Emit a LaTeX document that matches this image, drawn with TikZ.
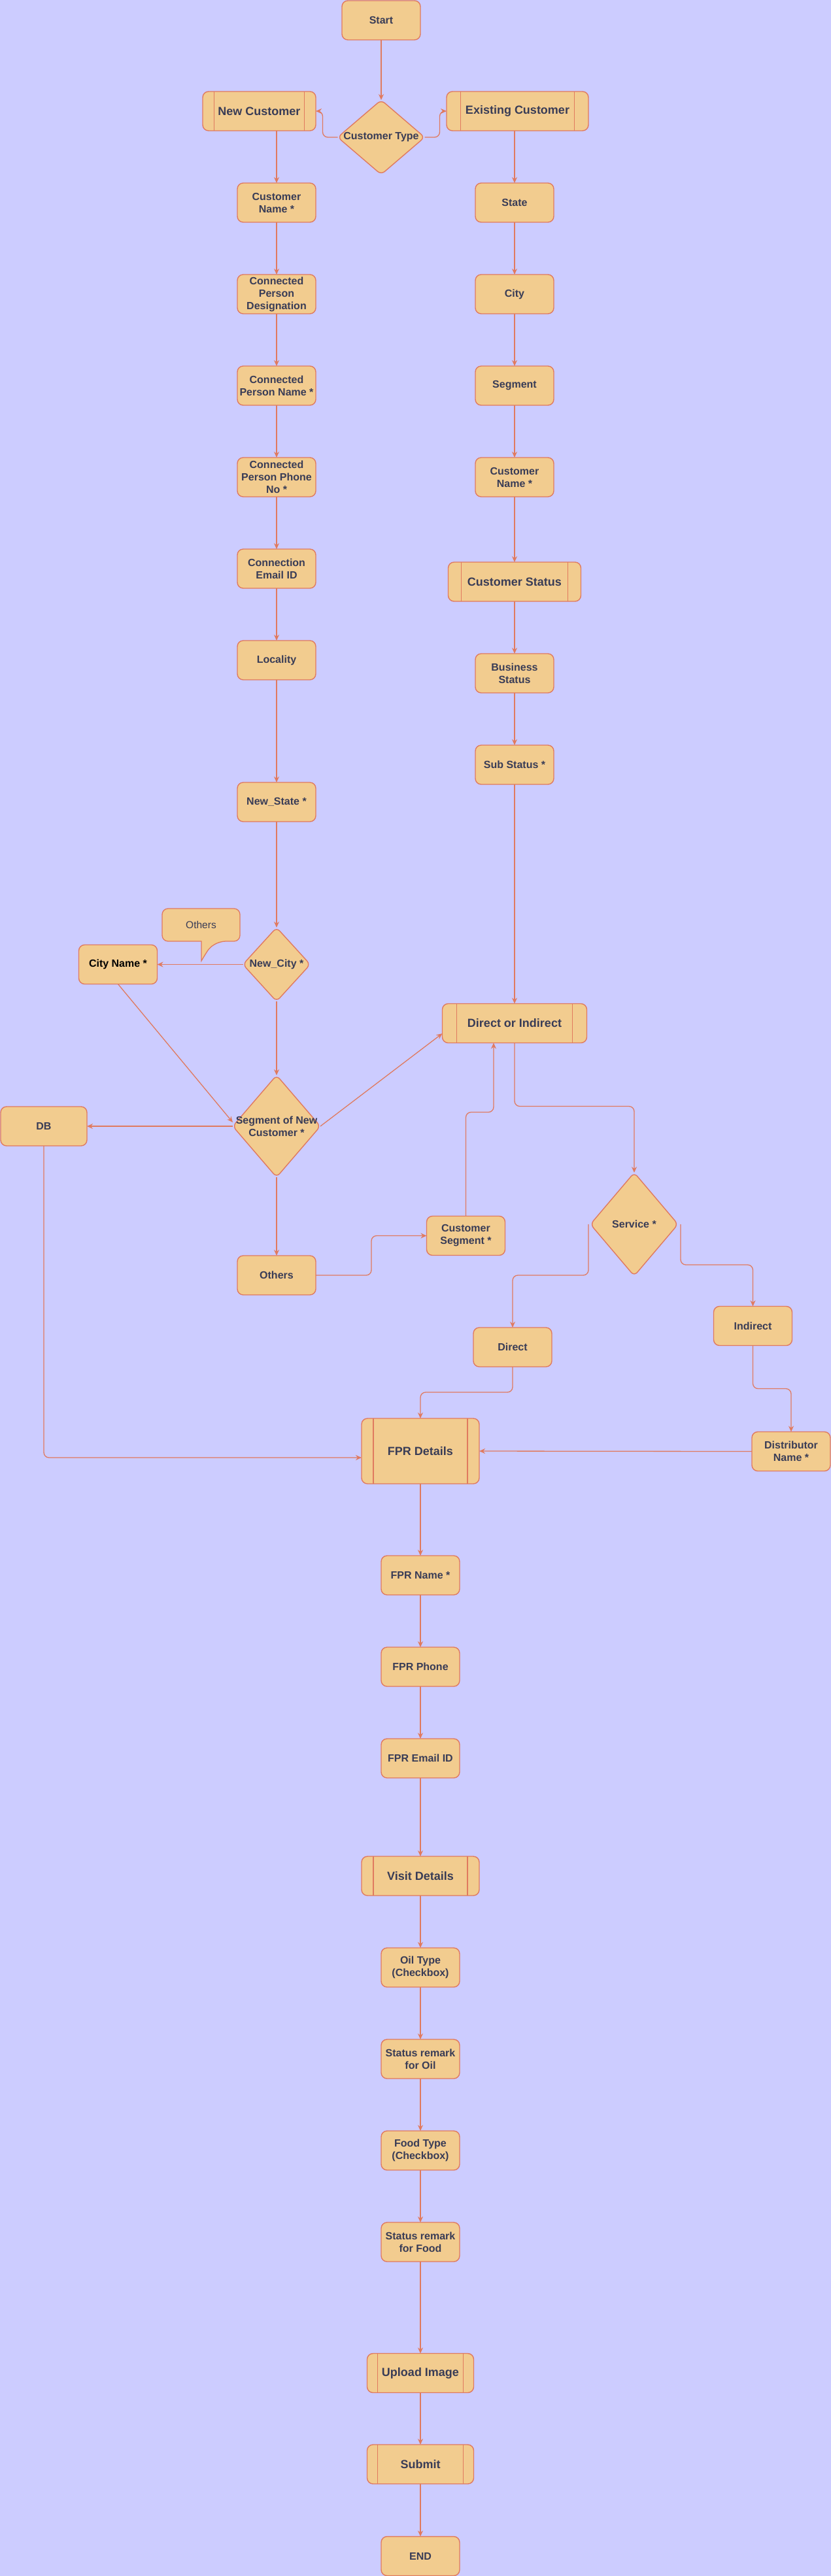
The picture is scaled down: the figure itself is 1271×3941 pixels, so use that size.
\documentclass[tikz,border=0pt]{standalone}
\usepackage{fontspec}
\setmainfont{Liberation Sans}
\usetikzlibrary{shapes.geometric,arrows.meta,calc}
\definecolor{bgc}{HTML}{CCCCFF}
\definecolor{boxf}{HTML}{F2CC8F}
\definecolor{boxd}{HTML}{E07A5F}
\definecolor{txtc}{HTML}{393C56}
\begin{document}
\begin{tikzpicture}[x=1pt,y=-1pt,
  fbox/.style={draw=boxd,fill=boxf,line width=1.4pt,rounded corners=9pt,minimum width=120pt,minimum height=60pt,inner sep=0pt,outer sep=0pt,text=txtc,font=\fontsize{16}{19}\selectfont\bfseries,align=center},
  pbox/.style={fbox,font=\fontsize{18}{21}\selectfont\bfseries},
  dia/.style={diamond,draw=boxd,fill=boxf,line width=1.4pt,rounded corners=7pt,inner sep=0pt,outer sep=0pt},
  dtxt/.style={text=txtc,font=\fontsize{16}{19}\selectfont\bfseries,align=center,inner sep=0pt},
  arr/.style={draw=boxd,line width=1.3pt,rounded corners=8pt,-{Stealth[length=9pt,width=8pt]}},
  ln/.style={draw=boxd,line width=1.3pt}]
\useasboundingbox (0,0) rectangle (1271,3941);
\fill[bgc] (0,0) rectangle (1271,3941);

% top
\node[fbox] (start) at (583,31) {Start};
\node[pbox,minimum width=173pt] (nc) at (396.5,170) {New Customer};
\node[dia,minimum width=133pt,minimum height=114pt] (ct) at (583,210) {};
\node[dtxt] (ctt) at (ct.center) {Customer Type};
\node[pbox,minimum width=217pt] (ec) at (791.5,170) {Existing Customer};

% left column
\node[fbox] (cn) at (423,310) {Customer\\Name *};
\node[fbox] (cpd) at (423,450) {Connected\\Person\\Designation};
\node[fbox] (cpn) at (423,590) {Connected\\Person Name *};
\node[fbox] (cpp) at (423,730) {Connected\\Person Phone\\No *};
\node[fbox] (cei) at (423,870) {Connection\\Email ID};
\node[fbox] (loc) at (423,1010) {Locality};
\node[fbox] (nst) at (423,1227) {New\_State *};
\node[dia,minimum width=103pt,minimum height=113pt] (ncity) at (423,1475.5) {};
\node[dtxt] (ncityt) at (ncity.center) {New\_City *};
\node[dia,minimum width=134pt,minimum height=156pt] (seg) at (423,1723) {};
\node[dtxt] (segt) at (seg.center) {Segment of New\\Customer *};
\node[fbox] (oth) at (423,1951) {Others};
\node[fbox,text=black] (city) at (180.5,1475.5) {City Name *};
\node[fbox,minimum width=132pt] (db) at (67,1723) {DB};
\node[fbox] (cseg) at (712.5,1890.5) {Customer\\Segment *};

% callout
\draw[draw=boxd,fill=boxf,line width=1.3pt] (308,1440) [rounded corners=9pt] -- (248,1440) -- (248,1390) -- (367,1390) -- (367,1440) -- (336,1440) [sharp corners] .. controls (320,1450) .. (308,1470) -- cycle;
\node[font=\fontsize{15.5}{18}\selectfont,text=txtc,inner sep=0pt] (othc) at (307.5,1415) {Others};

% right column
\node[fbox] (st) at (787,310) {State};
\node[fbox] (cty) at (787,450) {City};
\node[fbox] (sgm) at (787,590) {Segment};
\node[fbox] (cn2) at (787,730) {Customer\\Name *};
\node[pbox,minimum width=203pt] (cst) at (787,890) {Customer Status};
\node[fbox] (bst) at (787,1030) {Business\\Status};
\node[fbox] (sst) at (787,1170) {Sub Status *};
\node[pbox,minimum width=221pt] (di) at (787,1565.5) {Direct or Indirect};
\node[dia,minimum width=134pt,minimum height=158pt] (svc) at (970,1873) {};
\node[dtxt] (svct) at (svc.center) {Service *};
\node[fbox] (dir) at (784,2061) {Direct};
\node[fbox] (ind) at (1151.5,2028.5) {Indirect};
\node[fbox] (dist) at (1210,2220.5) {Distributor\\Name *};

% FPR column
\node[pbox,minimum width=180pt,minimum height=100pt] (fpr) at (643,2220) {FPR Details};
\node[fbox] (fn) at (643,2410) {FPR Name *};
\node[fbox] (fph) at (643,2550) {FPR Phone};
\node[fbox] (fem) at (643,2690) {FPR Email ID};
\node[pbox,minimum width=180pt] (vd) at (643,2870) {Visit Details};
\node[fbox] (oil) at (643,3010) {Oil Type\\(Checkbox)};
\node[fbox] (soil) at (643,3150) {Status remark\\for Oil};
\node[fbox] (food) at (643,3290) {Food Type\\(Checkbox)};
\node[fbox] (sfood) at (643,3430) {Status remark\\for Food};
\node[pbox,minimum width=163pt] (upl) at (643,3630.5) {Upload Image};
\node[pbox,minimum width=163pt] (sbm) at (643,3770) {Submit};
\node[fbox] (endn) at (643,3910.5) {END};

% subprocess side lines
\foreach \n in {nc,ec,cst,di,fpr,vd,upl,sbm}{
  \draw[ln] ($(\n.north west)!0.1!(\n.north east)$) -- ($(\n.south west)!0.1!(\n.south east)$);
  \draw[ln] ($(\n.north west)!0.9!(\n.north east)$) -- ($(\n.south west)!0.9!(\n.south east)$);
}

% connectors
\draw[arr] (start.south) -- (ct.north);
\draw[arr] (ct.west) -- ++(-23,0) |- (nc.east);
\draw[arr] (ct.east) -- ++(23,0) |- (ec.west);
\draw[arr] (cn.north |- nc.south) -- (cn.north);
\draw[arr] (cn) -- (cpd);
\draw[arr] (cpd) -- (cpn);
\draw[arr] (cpn) -- (cpp);
\draw[arr] (cpp) -- (cei);
\draw[arr] (cei) -- (loc);
\draw[arr] (loc) -- (nst);
\draw[arr] (nst.south) -- (ncity.north);
\draw[arr] (ncity.south) -- (seg.north);
\draw[arr] (seg.south) -- (oth.north);
\draw[arr] (ncity.west) -- (city.east);
\draw[arr] (city.south) -- ($(seg.west)+(0,-6)$);
\draw[arr] (seg.west) -- (db.east);
\draw[arr] (seg.east) -- ($(di.south west)!0.24!(di.north west)$);
\draw[arr] (oth.east) -- ++(85,0) |- (cseg.west);
\draw[arr] (cseg.north) -- ++(0,-159) -| ($(di.south)+(-32,0)$);

\draw[arr] (st.north |- ec.south) -- (st.north);
\draw[arr] (st) -- (cty);
\draw[arr] (cty) -- (sgm);
\draw[arr] (sgm) -- (cn2);
\draw[arr] (cn2) -- (cst);
\draw[arr] (cst) -- (bst);
\draw[arr] (bst) -- (sst);
\draw[arr] (sst) -- (di);
\draw[arr] (di.south) -- ++(0,97) -| (svc.north);
\draw[arr] ($(svc.west)+(-3,0)$) -- ++(0,78) -| (dir.north);
\draw[arr] ($(svc.east)+(4,0)$) -- ++(0,62) -| (ind.north);
\draw[arr] (ind.south) -- ++(0,66) -| (dist.north);
\draw[arr] (dir.south) -- ++(0,39) -| (fpr.north);
\draw[arr] (dist.west) -- (fpr.east);
\draw[arr] (db.south) |- ($(fpr.west)+(0,10)$);

\draw[arr] (fpr) -- (fn);
\draw[arr] (fn) -- (fph);
\draw[arr] (fph) -- (fem);
\draw[arr] (fem) -- (vd);
\draw[arr] (vd) -- (oil);
\draw[arr] (oil) -- (soil);
\draw[arr] (soil) -- (food);
\draw[arr] (food) -- (sfood);
\draw[arr] (sfood) -- (upl);
\draw[arr] (upl) -- (sbm);
\draw[arr] (sbm) -- (endn);
\end{tikzpicture}
\end{document}
